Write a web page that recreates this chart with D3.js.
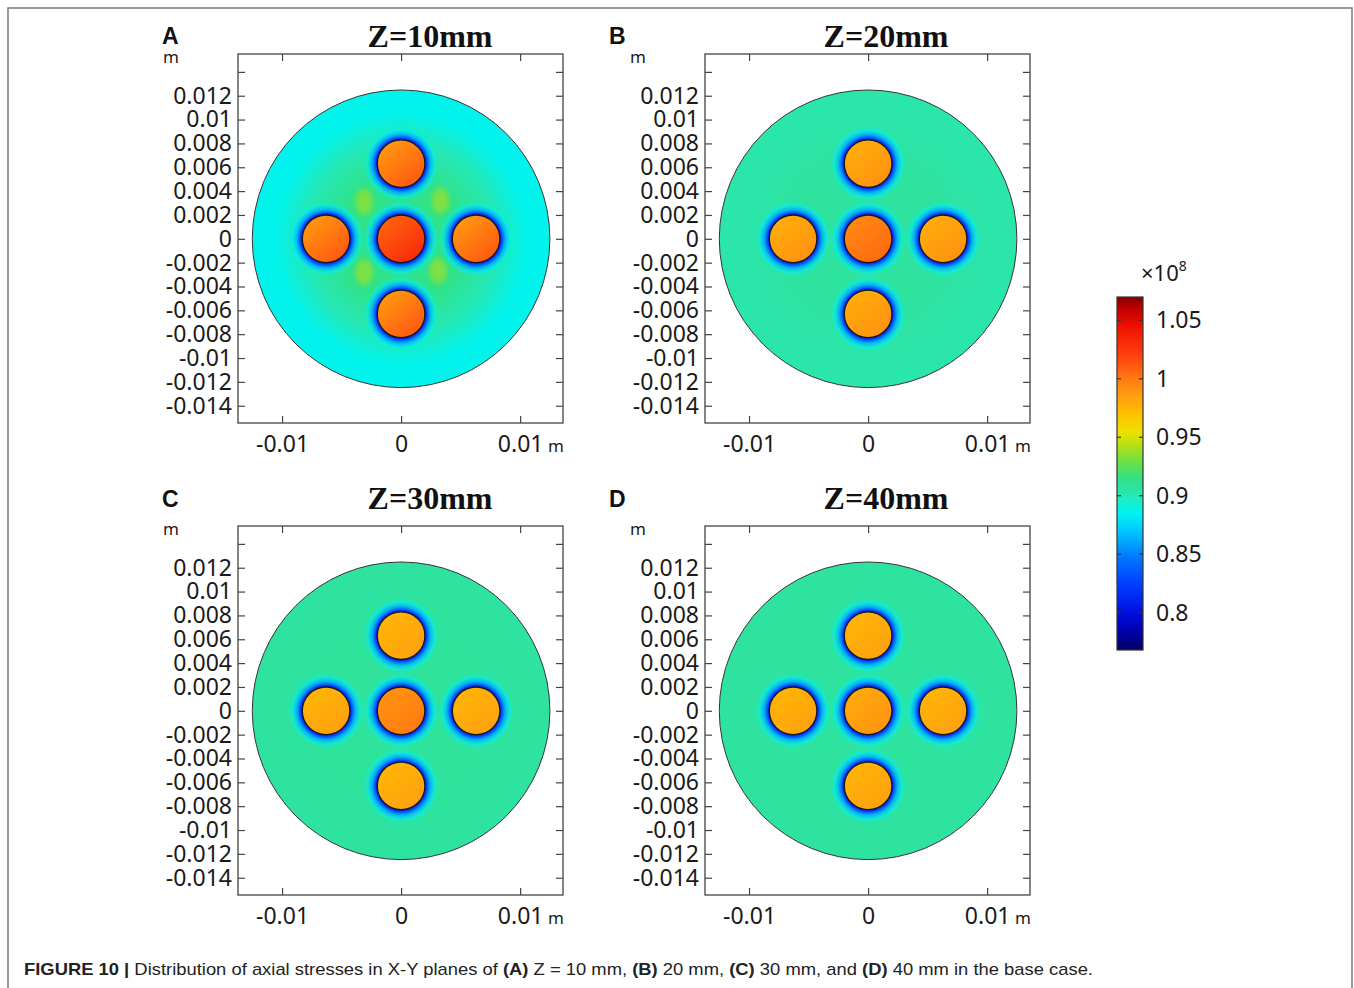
<!DOCTYPE html>
<html>
<head>
<meta charset="utf-8">
<script src="https://cdn.jsdelivr.net/npm/d3@7"></script>
<style>
  body { margin: 0; background: #fff; }
  svg text { font-family: "Noto Sans", "Open Sans", sans-serif; fill: #1a1a1a; }
</style>
</head>
<body>
<svg id="fig" width="1354" height="988"></svg>
<script>
// ---- data ----
const panelIds = ['A', 'B', 'C', 'D'];
const panelTitles = ['Z=10mm', 'Z=20mm', 'Z=30mm', 'Z=40mm'];

const yTicks = [0.014, 0.012, 0.01, 0.008, 0.006, 0.004, 0.002, 0, -0.002, -0.004, -0.006, -0.008, -0.01, -0.012, -0.014];
const yTickLabels = ['', '0.012', '0.01', '0.008', '0.006', '0.004', '0.002', '0', '-0.002', '-0.004', '-0.006', '-0.008', '-0.01', '-0.012', '-0.014'];
const xTicks = [-0.01, 0, 0.01];
const xTickLabels = ['-0.01', '0', '0.01'];

// geometry (m)
const outerRadius = 0.0125;
const rodRadius = 0.002;
const haloRadius = 0.0033;
const rodX = [0, 0, -0.0063, 0.0063, 0];
const rodY = [0, 0.0063, 0, 0, -0.0063];

// axial stress (x1e8 Pa), one entry per panel
const matrixEdgeStress = [0.886, 0.903, 0.906, 0.906];
const matrixMidStress = [0.901, 0.905, 0.907, 0.906];
const matrixCoreStress = [0.914, 0.907, 0.908, 0.907];
const centerRodStress = [1.020, 1.000, 0.995, 0.985];
const outerRodStress = [1.000, 0.985, 0.980, 0.980];
const rodStressSpread = [0.012, 0.006, 0.005, 0.005];
const haloStress = [0.80, 0.83, 0.862, 0.884];

// panel A: higher-stress patches on the diagonals
const patchX = [-0.0031, 0.0033, -0.0031, 0.0031];
const patchY = [0.0031, 0.0032, -0.0028, -0.0027];
const patchStress = 0.94;

// colour bar
const cbarDomain = [0.768, 1.07];
const cbarTicks = [1.05, 1, 0.95, 0.9, 0.85, 0.8];
const cbarTickLabels = ['1.05', '1', '0.95', '0.9', '0.85', '0.8'];
const cmapStops = [0.768, 0.785, 0.80, 0.825, 0.85, 0.87, 0.885, 0.898, 0.905, 0.915, 0.93, 0.945, 0.955, 0.97, 0.985, 1.0, 1.02, 1.045, 1.06, 1.07];
const cmapColors = ['#000060', '#0000b0', '#0010e0', '#0040ff', '#0080ff', '#00c8ff', '#00f4f0', '#20ecc0', '#2ee3a3', '#30e285',
  '#70e040', '#c0e010', '#f0e000', '#ffc000', '#ffa010', '#ff7a10', '#ff4010', '#f01000', '#c00000', '#800000'];

const captionParts = [
  ['FIGURE 10 | ', true], ['Distribution of axial stresses in X-Y planes of ', false], ['(A)', true], [' Z = 10 mm, ', false],
  ['(B)', true], [' 20 mm, ', false], ['(C)', true], [' 30 mm, and ', false], ['(D)', true], [' 40 mm in the base case.', false]
];

// ---- layout ----
const frameW = 325, frameH = 369;
const framePos = [[238, 54], [705, 54], [238, 526], [705, 526]];
const letterPos = [[162, 44], [609, 44], [162, 507], [609, 507]];
const titlePos = [[430, 47], [886, 47], [430, 509], [886, 509]];

const color = d3.scaleLinear().domain(cmapStops).range(cmapColors).interpolate(d3.interpolateRgb);

const svg = d3.select('#fig');
const defs = svg.append('defs');

defs.append('filter').attr('id', 'blur').append('feGaussianBlur').attr('stdDeviation', 2.5);

// figure border (open at the bottom)
svg.append('path')
    .attr('d', 'M8,988 V8 H1352 V988')
    .attr('fill', 'none')
    .attr('stroke', '#7a7a7a')
    .attr('stroke-width', 1.5);

panelIds.forEach((id, i) => {
    const [fx, fy] = framePos[i];
    const x = d3.scaleLinear().domain([-0.0137, 0.0136]).range([0, frameW]);
    const y = d3.scaleLinear().domain([-0.01545, 0.0155]).range([frameH, 0]);
    const px = (r) => x(r) - x(0);

    const g = svg.append('g').attr('transform', `translate(${fx},${fy})`);

    // gradients for this panel
    const mg = defs.append('radialGradient').attr('id', `matrix-${id}`);
    mg.append('stop').attr('offset', 0).attr('stop-color', color(matrixCoreStress[i]));
    mg.append('stop').attr('offset', 0.42).attr('stop-color', color(matrixCoreStress[i]));
    mg.append('stop').attr('offset', 0.64).attr('stop-color', color(matrixMidStress[i]));
    mg.append('stop').attr('offset', 0.84).attr('stop-color', color(matrixEdgeStress[i]));
    mg.append('stop').attr('offset', 1).attr('stop-color', color(matrixEdgeStress[i]));

    const hg = defs.append('radialGradient').attr('id', `halo-${id}`);
    const r0 = rodRadius / haloRadius;
    hg.append('stop').attr('offset', r0).attr('stop-color', color(haloStress[0]));
    hg.append('stop').attr('offset', r0 + 0.05).attr('stop-color', color(haloStress[1]));
    hg.append('stop').attr('offset', r0 + 0.14).attr('stop-color', color(haloStress[2])).attr('stop-opacity', 0.85);
    hg.append('stop').attr('offset', r0 + 0.26).attr('stop-color', color(haloStress[3])).attr('stop-opacity', 0.55);
    hg.append('stop').attr('offset', 1).attr('stop-color', color(matrixCoreStress[i])).attr('stop-opacity', 0);

    const rodVals = rodX.map((_, k) => (k === 0 ? centerRodStress[i] : outerRodStress[i]));
    rodVals.forEach((v, k) => {
        const lg = defs.append('linearGradient').attr('id', `rod-${id}-${k}`)
            .attr('x1', 0.15).attr('y1', 0.1).attr('x2', 0.85).attr('y2', 0.95);
        lg.append('stop').attr('offset', 0).attr('stop-color', color(v - rodStressSpread[i]));
        lg.append('stop').attr('offset', 1).attr('stop-color', color(v + rodStressSpread[i]));
    });

    defs.append('clipPath').attr('id', `clip-${id}`)
        .append('circle').attr('cx', x(0)).attr('cy', y(0)).attr('r', px(outerRadius));

    // field
    const field = g.append('g').attr('clip-path', `url(#clip-${id})`);
    field.append('circle')
        .attr('cx', x(0)).attr('cy', y(0)).attr('r', px(outerRadius))
        .attr('fill', `url(#matrix-${id})`);

    if (i === 0) {
        field.selectAll('.patch')
            .data(patchX.map((v, k) => [v, patchY[k]]))
            .enter().append('ellipse')
            .attr('class', 'patch')
            .attr('cx', (d) => x(d[0])).attr('cy', (d) => y(d[1]))
            .attr('rx', 9).attr('ry', 13)
            .attr('fill', color(patchStress))
            .attr('opacity', 0.65)
            .attr('filter', 'url(#blur)');
    }

    field.selectAll('.halo')
        .data(rodX.map((v, k) => [v, rodY[k]]))
        .enter().append('circle')
        .attr('class', 'halo')
        .attr('cx', (d) => x(d[0])).attr('cy', (d) => y(d[1]))
        .attr('r', px(haloRadius))
        .attr('fill', `url(#halo-${id})`);

    field.selectAll('.rod')
        .data(rodX.map((v, k) => [v, rodY[k], k]))
        .enter().append('circle')
        .attr('class', 'rod')
        .attr('cx', (d) => x(d[0])).attr('cy', (d) => y(d[1]))
        .attr('r', px(rodRadius))
        .attr('fill', (d) => `url(#rod-${id}-${d[2]})`)
        .attr('stroke', '#1a1a1a')
        .attr('stroke-width', 1.3);

    g.append('circle')
        .attr('cx', x(0)).attr('cy', y(0)).attr('r', px(outerRadius))
        .attr('fill', 'none')
        .attr('stroke', '#333')
        .attr('stroke-width', 1);

    // axes, ticks pointing inward
    const yFmt = (d) => yTickLabels[yTicks.indexOf(d)];
    const xFmt = (d) => xTickLabels[xTicks.indexOf(d)];
    const left = g.append('g').call(d3.axisLeft(y).tickValues(yTicks).tickFormat(yFmt).tickSizeInner(-7).tickSizeOuter(0).tickPadding(6));
    const right = g.append('g').attr('transform', `translate(${frameW},0)`)
        .call(d3.axisRight(y).tickValues(yTicks).tickFormat('').tickSizeInner(-7).tickSizeOuter(0));
    const bottom = g.append('g').attr('transform', `translate(0,${frameH})`)
        .call(d3.axisBottom(x).tickValues(xTicks).tickFormat(xFmt).tickSizeInner(-7).tickSizeOuter(0).tickPadding(10));
    const top = g.append('g')
        .call(d3.axisTop(x).tickValues(xTicks).tickFormat('').tickSizeInner(-7).tickSizeOuter(0));
    [left, right, bottom, top].forEach((a) => {
        a.select('.domain').remove();
        a.selectAll('line').attr('stroke', '#444').attr('stroke-width', 1.2);
        a.selectAll('text').attr('font-size', 23).attr('fill', '#1a1a1a')
            .attr('font-family', '"Noto Sans", sans-serif');
    });
    bottom.selectAll('text').attr('dy', null).attr('y', 29).attr('dominant-baseline', 'alphabetic');

    g.append('rect')
        .attr('width', frameW).attr('height', frameH)
        .attr('fill', 'none').attr('stroke', '#444').attr('stroke-width', 1.3);

    // units
    g.append('text').attr('x', -75).attr('y', 9).attr('font-size', 17).text('m');
    g.append('text').attr('x', 310).attr('y', frameH + 29).attr('font-size', 17).text('m');

    // panel letter and title
    svg.append('text')
        .attr('x', letterPos[i][0]).attr('y', letterPos[i][1])
        .attr('font-weight', 'bold').attr('font-size', 23)
        .style('font-family', '"Liberation Sans", Arial, sans-serif')
        .style('fill', '#111')
        .text(id);
    svg.append('text')
        .attr('x', titlePos[i][0]).attr('y', titlePos[i][1])
        .attr('text-anchor', 'middle')
        .attr('font-weight', 'bold').attr('font-size', 32)
        .style('font-family', '"Liberation Serif", "Times New Roman", serif')
        .style('fill', '#111')
        .text(panelTitles[i]);
});

// ---- colour bar ----
const cbX = 1117, cbW = 26, cbTop = 297, cbH = 353;
const cy = d3.scaleLinear().domain(cbarDomain).range([cbTop + cbH, cbTop]);
const cbGrad = defs.append('linearGradient').attr('id', 'cbar')
    .attr('x1', 0).attr('y1', 1).attr('x2', 0).attr('y2', 0);
cmapStops.forEach((s, k) => {
    cbGrad.append('stop')
        .attr('offset', (s - cbarDomain[0]) / (cbarDomain[1] - cbarDomain[0]))
        .attr('stop-color', cmapColors[k]);
});
svg.append('rect')
    .attr('x', cbX).attr('y', cbTop).attr('width', cbW).attr('height', cbH)
    .attr('fill', 'url(#cbar)').attr('stroke', '#333').attr('stroke-width', 1.2);

const cbTicks = svg.append('g').selectAll('g').data(cbarTicks).enter().append('g');
cbTicks.append('line')
    .attr('x1', cbX).attr('x2', cbX + 4).attr('y1', (d) => cy(d)).attr('y2', (d) => cy(d))
    .attr('stroke', '#333').attr('stroke-width', 1.2);
cbTicks.append('line')
    .attr('x1', cbX + cbW - 4).attr('x2', cbX + cbW).attr('y1', (d) => cy(d)).attr('y2', (d) => cy(d))
    .attr('stroke', '#333').attr('stroke-width', 1.2);
cbTicks.append('text')
    .attr('x', 1156).attr('y', (d) => cy(d)).attr('dy', '0.35em')
    .attr('font-size', 23)
    .text((d, k) => cbarTickLabels[k]);

const expo = svg.append('text').attr('x', 1141).attr('y', 281).attr('font-size', 22);
expo.append('tspan').text('×10');
expo.append('tspan').attr('dy', -10).attr('font-size', 14).text('8');

// ---- caption ----
const cap = svg.append('text')
    .attr('x', 24).attr('y', 975)
    .attr('font-size', 17)
    .style('font-family', '"Liberation Sans", Arial, sans-serif')
    .style('fill', '#222');
captionParts.forEach(([t, bold]) => {
    cap.append('tspan').attr('font-weight', bold ? 'bold' : 'normal').text(t);
});
cap.attr('textLength', 1069).attr('lengthAdjust', 'spacingAndGlyphs');
</script>
</body>
</html>
